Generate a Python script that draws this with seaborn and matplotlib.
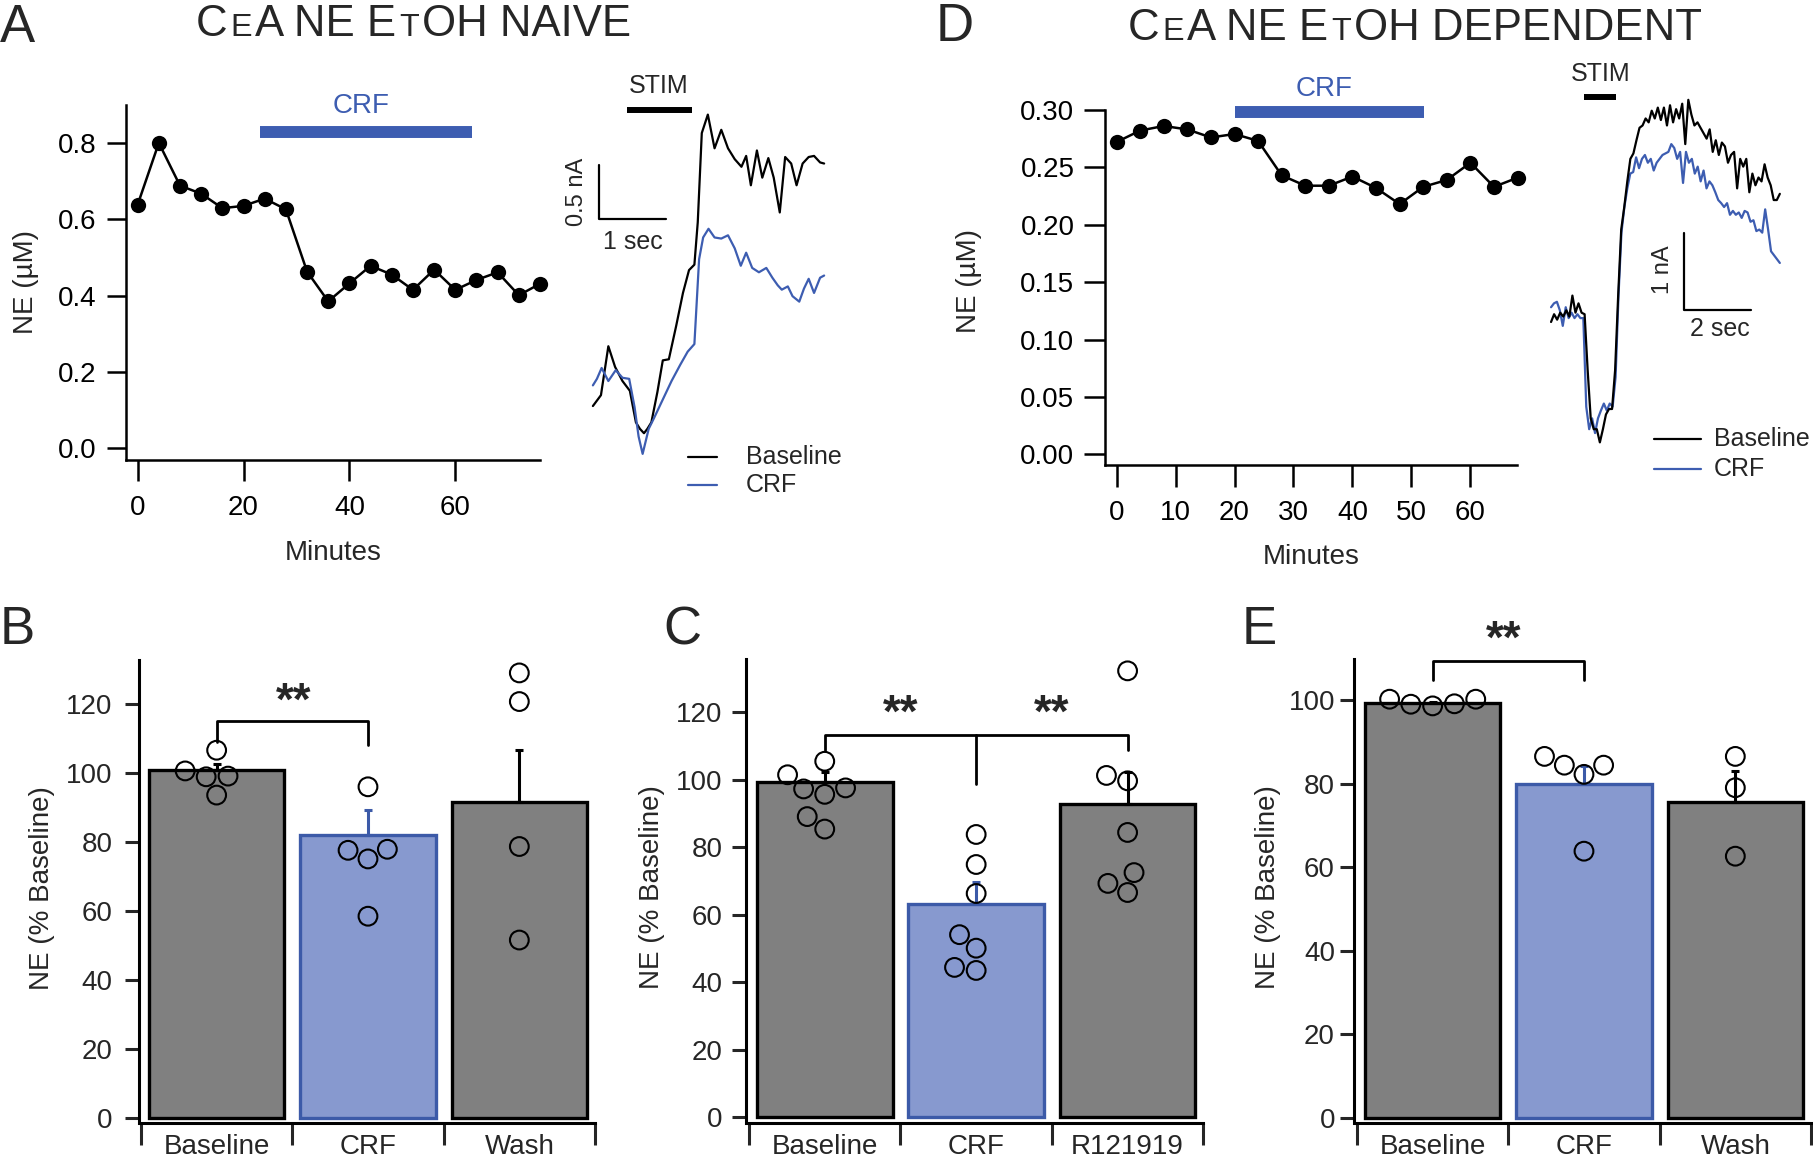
import numpy as np
import pandas as pd
import matplotlib
matplotlib.use('Agg')
import matplotlib.pyplot as plt
import seaborn as sns

# ---------------- time courses (NE, uM) ----------------
A_MINUTES = list(range(0, 80, 4))
A_NE = [0.638, 0.800, 0.688, 0.667, 0.629, 0.635, 0.654, 0.626, 0.463, 0.385,
        0.432, 0.478, 0.455, 0.415, 0.468, 0.415, 0.441, 0.461, 0.401, 0.431]
A_CRF_ON = [23.1, 63.2]

D_MINUTES = list(range(0, 72, 4))
D_NE = [0.272, 0.282, 0.286, 0.283, 0.276, 0.279, 0.273, 0.243, 0.234, 0.234,
        0.242, 0.232, 0.218, 0.233, 0.239, 0.254, 0.233, 0.241]
D_CRF_ON = [20.0, 52.1]

# ---------------- example traces (sec, nA) ----------------
A_BASE_T = [0, 0.12, 0.23, 0.33, 0.44, 0.55, 0.64, 0.70, 0.76, 0.81, 0.87, 0.96, 1.04, 1.13,
            1.24, 1.34, 1.43, 1.51, 1.56, 1.62, 1.71, 1.81, 1.91, 2.01, 2.11, 2.21, 2.28, 2.35,
            2.44, 2.52, 2.61, 2.69, 2.78, 2.86, 2.95, 3.03, 3.12, 3.21, 3.29, 3.38, 3.44]
A_BASE_I = [0.01, 0.11, 0.56, 0.37, 0.24, 0.15, -0.14, -0.20, -0.24, -0.20, -0.14, 0.14, 0.43, 0.44,
            0.75, 1.05, 1.26, 1.31, 1.70, 2.52, 2.69, 2.38, 2.55, 2.38, 2.28, 2.21, 2.31, 2.04,
            2.36, 2.11, 2.29, 2.11, 1.79, 2.30, 2.24, 2.04, 2.24, 2.30, 2.31, 2.25, 2.24]
A_CRF_T = [0, 0.06, 0.13, 0.23, 0.34, 0.44, 0.54, 0.62, 0.68, 0.74, 0.83, 0.91, 1.04, 1.17,
           1.30, 1.41, 1.51, 1.58, 1.64, 1.72, 1.81, 1.91, 2.01, 2.11, 2.20, 2.28, 2.37, 2.47,
           2.58, 2.67, 2.75, 2.81, 2.90, 2.97, 3.07, 3.14, 3.21, 3.29, 3.38, 3.44]
A_CRF_I = [0.20, 0.26, 0.36, 0.24, 0.34, 0.27, 0.26, 0.0, -0.27, -0.43, -0.20, -0.10, 0.07, 0.24,
           0.39, 0.51, 0.58, 1.36, 1.56, 1.64, 1.56, 1.55, 1.58, 1.46, 1.30, 1.42, 1.28, 1.24,
           1.28, 1.19, 1.12, 1.08, 1.11, 1.02, 0.97, 1.09, 1.18, 1.05, 1.19, 1.21]
A_STIM = [0.50, 1.47]

D_TRACE_DUR = 6.83
D_BASE_I = [-0.05, 0.05, -0.02, 0.07, 0.02, 0.10, 0.02, 0.29, 0.07, 0.19, 0.07, 0.05, -0.67, -1.29,
            -1.43, -1.43, -1.60, -1.43, -1.24, -1.17, -1.17, -0.67, 0.29, 1.14, 1.43, 1.76, 2.05,
            2.12, 2.29, 2.45, 2.48, 2.57, 2.52, 2.67, 2.57, 2.71, 2.55, 2.71, 2.48, 2.74, 2.52,
            2.69, 2.57, 2.76, 2.24, 2.81, 2.62, 2.48, 2.52, 2.45, 2.38, 2.31, 2.43, 2.14, 2.29,
            2.10, 2.26, 2.21, 2.00, 2.10, 2.14, 1.67, 2.05, 1.95, 2.05, 1.62, 1.86, 1.71, 1.81,
            1.76, 1.98, 1.81, 1.71, 1.52, 1.52, 1.60]
D_CRF_I = [0.14, 0.19, 0.21, 0.10, -0.10, 0.14, 0.0, 0.07, 0.0, 0.05, 0.0, 0.0, -1.14, -1.43,
           -1.29, -1.48, -1.29, -1.19, -1.10, -1.19, -1.10, -1.14, -0.76, 0.29, 1.10, 1.43, 1.67,
           1.86, 1.88, 2.07, 1.93, 2.05, 2.10, 2.00, 2.05, 1.90, 2.00, 2.05, 2.10, 2.12, 2.14,
           2.24, 2.19, 2.05, 2.14, 1.74, 2.14, 2.00, 2.05, 1.86, 1.95, 1.76, 1.90, 1.67, 1.76,
           1.71, 1.62, 1.52, 1.48, 1.43, 1.48, 1.33, 1.38, 1.33, 1.36, 1.29, 1.38, 1.36, 1.24,
           1.26, 1.12, 1.14, 1.10, 1.40, 1.14, 0.86, 0.81, 0.76, 0.71]
D_STIM = [0.99, 1.95]

# ---------------- summary bars (% baseline) ----------------
B_CATS = ['Baseline', 'CRF', 'Wash']
B_MEAN = [100.9, 81.9, 91.6]
B_SEM = [1.8, 7.3, 15.2]
B_BASE = [106.6, 100.6, 99.1, 98.9, 93.6]
B_CRF = [96.0, 77.6, 77.9, 75.1, 58.5]
B_WASH = [129.0, 120.7, 78.7, 51.6]

C_CATS = ['Baseline', 'CRF', 'R121919']
C_MEAN = [99.4, 63.3, 92.8]
C_SEM = [3.0, 6.3, 9.6]
C_BASE = [105.5, 101.5, 97.6, 97.3, 95.7, 89.1, 85.4]
C_CRF = [83.8, 74.9, 66.3, 54.1, 50.1, 44.4, 43.5]
C_R121919 = [132.3, 99.7, 101.3, 84.4, 72.5, 69.3, 66.6]

E_CATS = ['Baseline', 'CRF', 'Wash']
E_MEAN = [99.3, 80.0, 75.6]
E_SEM = [0.4, 4.4, 7.5]
E_BASE = [98.7, 99.1, 99.2, 100.3, 100.3]
E_CRF = [86.6, 84.5, 84.5, 82.3, 63.9]
E_WASH = [86.6, 79.1, 62.7]

GRAY = '#808080'
BLUE_FILL = '#8799cf'
BLUE_EDGE = '#3c5aa8'
BLUE = '#3d5db1'

sns.set_style('ticks')
plt.rcParams['font.family'] = ['Liberation Sans', 'DejaVu Sans']

W, H = 1813, 1158
fig = plt.figure(figsize=(W / 100, H / 100), dpi=100)
renderer = fig.canvas.get_renderer()


def px_axes(x0, y0, x1, y1):
    return fig.add_axes([x0 / W, 1 - y1 / H, (x1 - x0) / W, (y1 - y0) / H])


def fig_text(x, y, s, **kw):
    return fig.text(x / W, 1 - y / H, s, **kw)


def small_caps(x, y, pieces, size):
    # title written piece by piece so the small capitals can be smaller
    for s, scale in pieces:
        t = fig_text(x, y, s, fontsize=size * scale, va='baseline', ha='left')
        x += t.get_window_extent(renderer).width + 3


def axis_style(ax, lw, ylen, xlen):
    sns.despine(ax=ax)
    for s in ['left', 'bottom']:
        ax.spines[s].set_linewidth(lw)
        ax.spines[s].set_color('black')
    ax.tick_params(axis='y', length=ylen, width=lw, labelsize=20, colors='black')
    ax.tick_params(axis='x', length=xlen, width=lw, labelsize=20, colors='black')


# ================= A: time course =================
ax = px_axes(126, 104.7, 540, 459.8)
sns.lineplot(x=A_MINUTES, y=A_NE, ax=ax, color='black', lw=1.8, marker='o', markersize=11,
             markeredgewidth=0, clip_on=False)
ax.set_xlim(-2.2, 76)
ax.set_ylim(-0.03, 0.90)
ax.set_yticks([0.0, 0.2, 0.4, 0.6, 0.8])
ax.set_yticklabels([f'{v:.1f}' for v in [0.0, 0.2, 0.4, 0.6, 0.8]])
ax.set_xticks([0, 20, 40, 60])
axis_style(ax, 1.8, 14, 15)
ax.tick_params(axis='x', pad=10)
ax.tick_params(axis='y', pad=7)
ax.plot(A_CRF_ON, [0.829, 0.829], color=BLUE, lw=8.6, solid_capstyle='butt', clip_on=False)
ax.text(np.mean(A_CRF_ON) - 1, 0.896, 'CRF', color=BLUE, fontsize=20, ha='center', va='center')
ax.set_xlabel('Minutes', fontsize=20)
ax.set_ylabel('NE (µM)', fontsize=20)
ax.xaxis.set_label_coords(0.5, -0.225)
ax.yaxis.set_label_coords(-0.21, 0.5)

# ================= A: traces =================
ax = px_axes(566, 70, 868.5, 505)
sns.lineplot(x=A_BASE_T, y=A_BASE_I, ax=ax, color='black', lw=1.6, estimator=None, sort=False)
sns.lineplot(x=A_CRF_T, y=A_CRF_I, ax=ax, color=BLUE, lw=1.6, estimator=None, sort=False)
ax.set_xlim(-0.4, 4.1)
ax.set_ylim(-0.9, 3.1)
ax.axis('off')
ax.plot(A_STIM, [2.73, 2.73], color='black', lw=4.3, solid_capstyle='butt')
ax.text(np.mean(A_STIM), 2.95, 'STIM', fontsize=18, ha='center', va='center')
ax.plot([0.09, 0.09, 1.09], [2.23, 1.73, 1.73], color='black', lw=1.6)
ax.text(-0.24, 1.98, '0.5 nA', rotation=90, fontsize=17, ha='center', va='center')
ax.text(0.60, 1.52, '1 sec', fontsize=18, ha='center', va='center')
ax.plot([1.41, 1.85], [-0.46, -0.46], color='black', lw=1.6)
ax.plot([1.41, 1.85], [-0.72, -0.72], color=BLUE, lw=1.6)
ax.text(2.28, -0.46, 'Baseline', fontsize=18, va='center', clip_on=False)
ax.text(2.28, -0.72, 'CRF', fontsize=18, va='center', clip_on=False)

# ================= D: time course =================
ax = px_axes(1105, 109.9, 1517, 465.5)
sns.lineplot(x=D_MINUTES, y=D_NE, ax=ax, color='black', lw=1.8, marker='o', markersize=11,
             markeredgewidth=0, clip_on=False)
ax.set_xlim(-1.96, 67.9)
ax.set_ylim(-0.0096, 0.30)
D_YT = [0.0, 0.05, 0.10, 0.15, 0.20, 0.25, 0.30]
ax.set_yticks(D_YT)
ax.set_yticklabels([f'{v:.2f}' for v in D_YT])
ax.set_xticks([0, 10, 20, 30, 40, 50, 60])
axis_style(ax, 1.8, 15, 16)
ax.tick_params(axis='x', pad=9)
ax.tick_params(axis='y', pad=7)
ax.plot(D_CRF_ON, [0.298, 0.298], color=BLUE, lw=8.6, solid_capstyle='butt', clip_on=False)
ax.text(35.2, 0.318, 'CRF', color=BLUE, fontsize=20, ha='center', va='center')
ax.set_xlabel('Minutes', fontsize=20)
ax.set_ylabel('NE (µM)', fontsize=20)
ax.xaxis.set_label_coords(0.5, -0.22)
ax.yaxis.set_label_coords(-0.298, 0.52)

# ================= D: traces =================
ax = px_axes(1541, 54, 1812, 489)
sns.lineplot(x=np.linspace(0, D_TRACE_DUR, len(D_CRF_I)), y=D_CRF_I, ax=ax, color=BLUE, lw=1.6,
             estimator=None, sort=False)
sns.lineplot(x=np.linspace(0, D_TRACE_DUR, len(D_BASE_I)), y=D_BASE_I, ax=ax, color='black',
             lw=1.6, estimator=None, sort=False)
ax.set_xlim(-0.3, 7.79)
ax.set_ylim(-2.2, 3.4)
ax.axis('off')
ax.plot(D_STIM, [2.85, 2.85], color='black', lw=4.3, solid_capstyle='butt')
ax.text(np.mean(D_STIM), 3.14, 'STIM', fontsize=18, ha='center', va='center')
ax.plot([3.98, 3.98, 5.98], [1.10, 0.10, 0.10], color='black', lw=1.6)
ax.text(3.34, 0.62, '1 nA', rotation=90, fontsize=17, ha='center', va='center')
ax.text(5.05, -0.14, '2 sec', fontsize=18, ha='center', va='center')
ax.plot([3.08, 4.47], [-1.56, -1.56], color='black', lw=1.6)
ax.plot([3.08, 4.47], [-1.94, -1.94], color=BLUE, lw=1.6)
ax.text(4.85, -1.56, 'Baseline', fontsize=18, va='center', clip_on=False)
ax.text(4.85, -1.94, 'CRF', fontsize=18, va='center', clip_on=False)


# ================= bar panels =================
def bar_panel(box, cats, means, sems, groups, ylim, xleft, yticks, ypad, ylab_x):
    ax = px_axes(*box)
    palette = {cats[0]: GRAY, cats[1]: BLUE_FILL, cats[2]: GRAY}
    sns.barplot(x=cats, y=means, hue=cats, palette=palette, width=0.895, ax=ax, legend=False,
                errorbar=None, saturation=1, linewidth=2.4, edgecolor='black', zorder=2)
    ax.patches[1].set_edgecolor(BLUE_EDGE)
    for i, (m, s) in enumerate(zip(means, sems)):
        col = BLUE_EDGE if i == 1 else 'black'
        ax.errorbar(i, m, yerr=[[0], [s]], fmt='none', ecolor=col, elinewidth=2.2,
                    capsize=3, capthick=2.2, zorder=3)
    df = pd.DataFrame({'cond': [c for c, g in zip(cats, groups) for _ in g],
                       'ne': [v for g in groups for v in g]})
    n0 = len(ax.collections)
    sns.swarmplot(data=df, x='cond', y='ne', order=cats, ax=ax, size=9, color='white')
    # open circles, a bit bigger than the swarm spacing so they overlap like the original
    for coll in ax.collections[n0:]:
        coll.set_facecolor('none')
        coll.set_edgecolor('black')
        coll.set_linewidth(1.5)
        coll.set_sizes([13.5 ** 2])
        coll.set_zorder(4)
        coll.set_clip_on(False)
    sns.despine(ax=ax)
    ax.set_xlim(xleft, 2.5)
    ax.set_ylim(*ylim)
    ax.spines['bottom'].set_bounds(-0.5, 2.5)
    for s in ['left', 'bottom']:
        ax.spines[s].set_linewidth(2.2)
        ax.spines[s].set_color('black')
    ax.set_yticks(yticks)
    ax.set_yticklabels([str(v) for v in yticks])
    ax.tick_params(axis='y', length=10, width=2.2, labelsize=20, pad=ypad)
    ax.set_xticks([-0.5, 0.5, 1.5, 2.5])
    ax.set_xticklabels([])
    ax.set_xticks([0, 1, 2], minor=True)
    ax.set_xticklabels(cats, minor=True)
    ax.tick_params(axis='x', which='major', length=16, width=2.2)
    ax.tick_params(axis='x', which='minor', length=0, labelsize=20, pad=8)
    ax.set_xlabel('')
    ax.set_ylabel('NE (% Baseline)', fontsize=20)
    ax.yaxis.set_label_coords(ylab_x, 0.507)
    return ax


def bracket(ax, x0, x1, top, left_end, right_end):
    ax.plot([x0, x0, x1, x1], [left_end, top, top, right_end], color='black', lw=2,
            clip_on=False, zorder=5)


def stars(ax, x, y):
    ax.text(x, y, '**', fontsize=33, fontweight='bold', ha='center', va='center', clip_on=False)


ax = bar_panel((139, 659.8, 595, 1122.6), B_CATS, B_MEAN, B_SEM, [B_BASE, B_CRF, B_WASH],
               (-1.3, 132.8), -0.513, [0, 20, 40, 60, 80, 100, 120], 9, -0.184)
bracket(ax, 0, 1, 115.1, 109.1, 108.1)
stars(ax, 0.51, 120.5)

ax = bar_panel((746, 658.7, 1203.3, 1122.6), C_CATS, C_MEAN, C_SEM, [C_BASE, C_CRF, C_R121919],
               (-1.6, 135.9), -0.52, [0, 20, 40, 60, 80, 100, 120], 7, -0.177)
bracket(ax, 0, 2, 113.3, 108.7, 108.7)
ax.plot([1, 1], [113.3, 98.9], color='black', lw=2, zorder=5)
stars(ax, 0.5, 119.3)
stars(ax, 1.5, 119.3)

ax = bar_panel((1354.4, 658.7, 1811, 1122.6), E_CATS, E_MEAN, E_SEM, [E_BASE, E_CRF, E_WASH],
               (-1.1, 110.0), -0.517, [0, 20, 40, 60, 80, 100], 4, -0.161)
bracket(ax, 0, 1, 109.4, 104.9, 104.9)
stars(ax, 0.47, 114.4)

# ================= titles & panel letters =================
small_caps(196, 36, [('C', 1), ('E', 0.74), ('A NE E', 1), ('T', 0.74), ('OH NAIVE', 1)], 31.5)
small_caps(1128, 40, [('C', 1), ('E', 0.74), ('A NE E', 1), ('T', 0.74), ('OH DEPENDENT', 1)], 31.5)
for letter, x, y in [('A', 0, 42), ('D', 936, 41), ('B', 0, 644), ('C', 663, 644), ('E', 1242, 644)]:
    fig_text(x, y, letter, fontsize=38, va='baseline', ha='left')

fig.savefig('out.png', dpi=100)
